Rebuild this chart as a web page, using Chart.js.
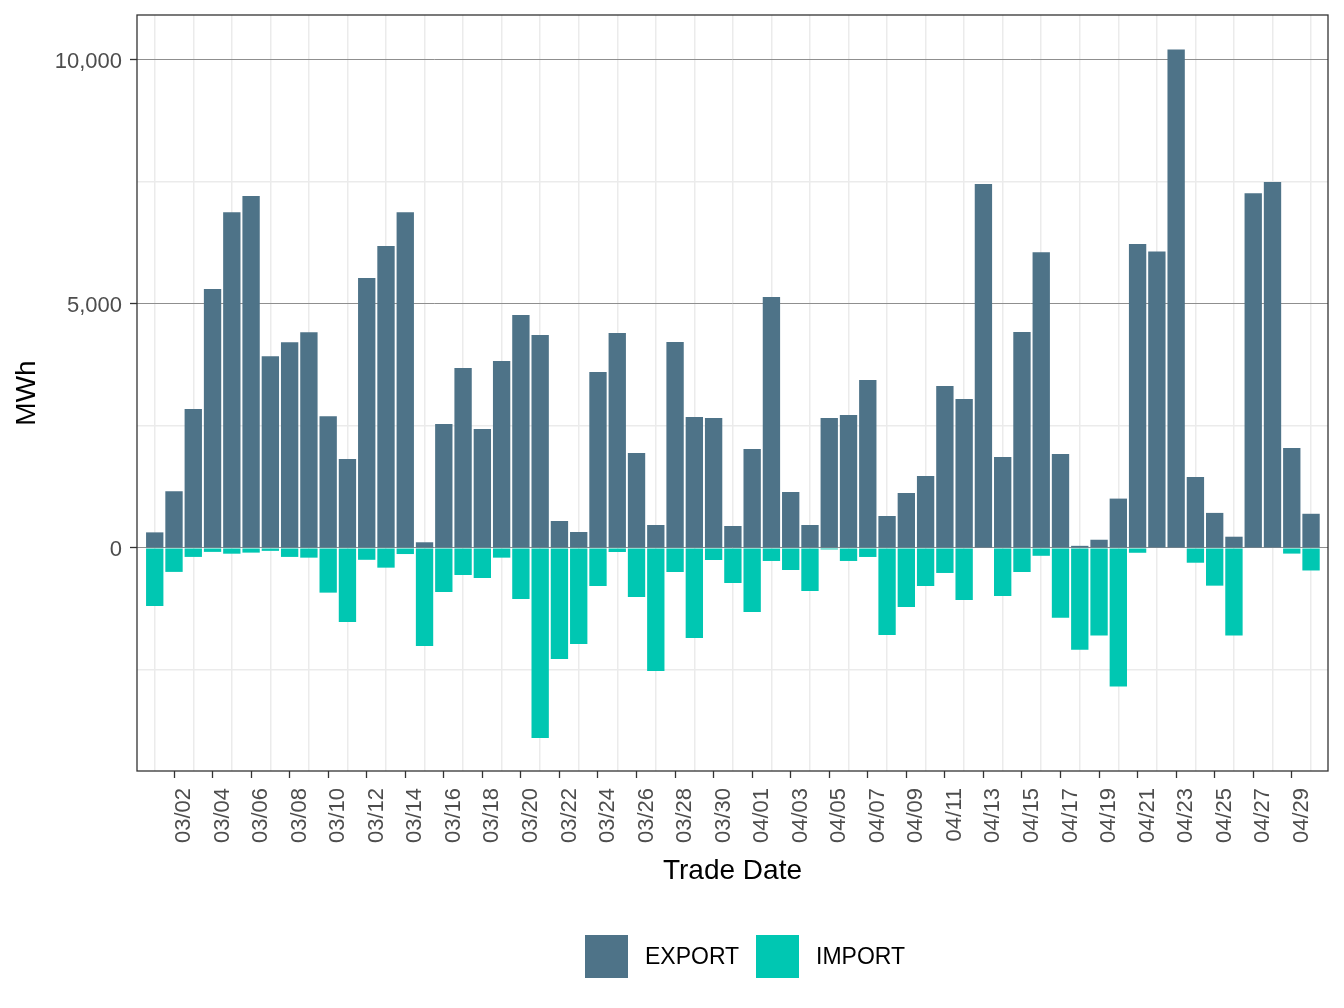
<!DOCTYPE html>
<html>
<head>
<meta charset="utf-8">
<script src="https://cdn.jsdelivr.net/npm/chart.js@4.4.1/dist/chart.umd.min.js"></script>
<style>
  body { margin: 0; background: #fff; }
  #wrap { position: relative; width: 1344px; height: 1008px; }
  .key { position: absolute; top: 935px; width: 43px; height: 43px; }
  .key-label { position: absolute; top: 943px; height: 43px; line-height: 43px;
    font: 23px 'Liberation Sans', Arial, sans-serif; color: #000; }
</style>
</head>
<body>
<div id="wrap">
  <canvas id="chart" width="1344" height="1008"></canvas>
  <div class="key" id="key-export" style="left:585px"></div>
  <div class="key-label" style="left:645px">EXPORT</div>
  <div class="key" id="key-import" style="left:756px"></div>
  <div class="key-label" style="left:816px">IMPORT</div>
</div>
<script>
const dates = [
  '03/01','03/02','03/03','03/04','03/05','03/06','03/07','03/08','03/09','03/10',
  '03/11','03/12','03/13','03/14','03/15','03/16','03/17','03/18','03/19','03/20',
  '03/21','03/22','03/23','03/24','03/25','03/26','03/27','03/28','03/29','03/30',
  '03/31','04/01','04/02','04/03','04/04','04/05','04/06','04/07','04/08','04/09',
  '04/10','04/11','04/12','04/13','04/14','04/15','04/16','04/17','04/18','04/19',
  '04/20','04/21','04/22','04/23','04/24','04/25','04/26','04/27','04/28','04/29',
  '04/30'
];
const exportMWh = [
  320, 1164, 2848, 5307, 6881, 7211, 3931, 4217, 4422, 2701,
  1823, 5534, 6186, 6881, 117, 2541, 3689, 2439, 3832, 4775,
  4365, 553, 328, 3607, 4406, 1947, 471, 4221, 2684, 2664,
  451, 2029, 5143, 1148, 471, 2664, 2725, 3443, 656, 1127,
  1475, 3320, 3053, 7459, 1865, 4426, 6060, 1925, 44, 169,
  1012, 6229, 6078, 10213, 1455, 719, 231, 7267, 7498, 2050,
  701
];
const importMWh = [
  -1190, -490, -183, -80, -117, -95, -59, -183, -198, -915,
  -1515, -242, -403, -124, -2006, -902, -553, -615, -198, -1045,
  -3893, -2275, -1967, -779, -82, -1004, -2520, -492, -1844, -246,
  -717, -1311, -266, -451, -881, -30, -266, -184, -1783, -1209,
  -779, -512, -1066, 0, -984, -492, -160, -1429, -2085, -1792,
  -2839, -98, 0, 0, -302, -772, -1792, 0, 0, -115,
  -461
];
// tick labels every other day starting 03/02, grid lines on the days in between
const labelDays = ['03/02','03/04','03/06','03/08','03/10','03/12','03/14','03/16','03/18','03/20',
  '03/22','03/24','03/26','03/28','03/30','04/01','04/03','04/05','04/07','04/09',
  '04/11','04/13','04/15','04/17','04/19','04/21','04/23','04/25','04/27','04/29'];
const yTicks = [-2500, 0, 2500, 5000, 7500, 10000];
const yLabelled = [0, 5000, 10000];

const EXPORT_COLOR = '#4e7388';
const IMPORT_COLOR = '#00c7b2';
const FONT = "'Liberation Sans', Arial, sans-serif";

document.getElementById('key-export').style.background = EXPORT_COLOR;
document.getElementById('key-import').style.background = IMPORT_COLOR;

const xMin = -0.92, xMax = 60.88;
const labelIdx = labelDays.map(d => dates.indexOf(d));
const gridIdx = dates.map((d, i) => i).filter(i => !labelIdx.includes(i));

function noPad(s) {
  s.paddingTop = 0; s.paddingBottom = 0; s.paddingLeft = 0; s.paddingRight = 0;
}

const panelBorder = {
  id: 'panelBorder',
  afterDraw(chart) {
    const { ctx, chartArea: a } = chart;
    ctx.save();
    ctx.strokeStyle = '#333';
    ctx.lineWidth = 1.3;
    ctx.strokeRect(a.left, a.top, a.right - a.left, a.bottom - a.top);
    ctx.restore();
  }
};

new Chart(document.getElementById('chart'), {
  type: 'bar',
  data: {
    datasets: [
      {
        label: 'EXPORT',
        data: exportMWh.map((v, i) => ({ x: i, y: v })),
        backgroundColor: EXPORT_COLOR,
        xAxisID: 'x',
        barPercentage: 0.9,
        categoryPercentage: 1
      },
      {
        label: 'IMPORT',
        data: importMWh.map((v, i) => ({ x: i, y: v })),
        backgroundColor: IMPORT_COLOR,
        xAxisID: 'x',
        barPercentage: 0.9,
        categoryPercentage: 1
      }
    ]
  },
  options: {
    responsive: false,
    animation: false,
    layout: { padding: { top: 15, right: 16, bottom: 120, left: 0 } },
    plugins: { legend: { display: false }, tooltip: { enabled: false } },
    scales: {
      x: {
        type: 'linear',
        stacked: true,
        offset: false,
        position: 'bottom',
        min: xMin,
        max: xMax,
        afterBuildTicks: s => { s.ticks = labelIdx.map(v => ({ value: v })); },
        afterFit: s => { s.height = 117; noPad(s); },
        ticks: {
          autoSkip: false,
          minRotation: 90,
          maxRotation: 90,
          padding: 10,
          labelOffset: 10,
          color: '#4d4d4d',
          font: { family: FONT, size: 22 },
          callback: v => dates[v]
        },
        grid: { drawOnChartArea: false, drawTicks: true, tickLength: 7, tickColor: '#333', tickWidth: 1.3, offset: false },
        border: { display: false },
        title: { display: true, text: 'Trade Date', color: '#000', font: { family: FONT, size: 28 }, padding: 0 }
      },
      xg: {
        type: 'linear',
        position: 'top',
        offset: false,
        min: xMin,
        max: xMax,
        afterBuildTicks: s => { s.ticks = gridIdx.map(v => ({ value: v })); },
        afterFit: s => { s.height = 0; noPad(s); },
        ticks: { display: false },
        grid: { color: '#ebebeb', lineWidth: 1.5, drawTicks: false, offset: false },
        border: { display: false }
      },
      y: {
        stacked: true,
        min: -4570,
        max: 10922,
        afterBuildTicks: s => { s.ticks = yTicks.map(v => ({ value: v })); },
        afterFit: s => { s.width = 137; noPad(s); },
        ticks: {
          padding: 8,
          labelOffset: 2,
          color: '#4d4d4d',
          font: { family: FONT, size: 22 },
          callback: v => yLabelled.includes(v) ? v.toLocaleString('en-US') : ''
        },
        grid: {
          color: c => yLabelled.includes(c.tick.value) ? '#8f8f8f' : '#ebebeb',
          lineWidth: c => yLabelled.includes(c.tick.value) ? 1 : 1.5,
          tickColor: c => yLabelled.includes(c.tick.value) ? '#333' : 'rgba(0,0,0,0)',
          tickLength: 7,
          tickWidth: 1.3
        },
        border: { display: false },
        title: { display: true, text: 'MWh', color: '#000', font: { family: FONT, size: 28 }, padding: { top: 10, bottom: 0 } }
      }
    }
  },
  plugins: [panelBorder]
});
</script>
</body>
</html>
